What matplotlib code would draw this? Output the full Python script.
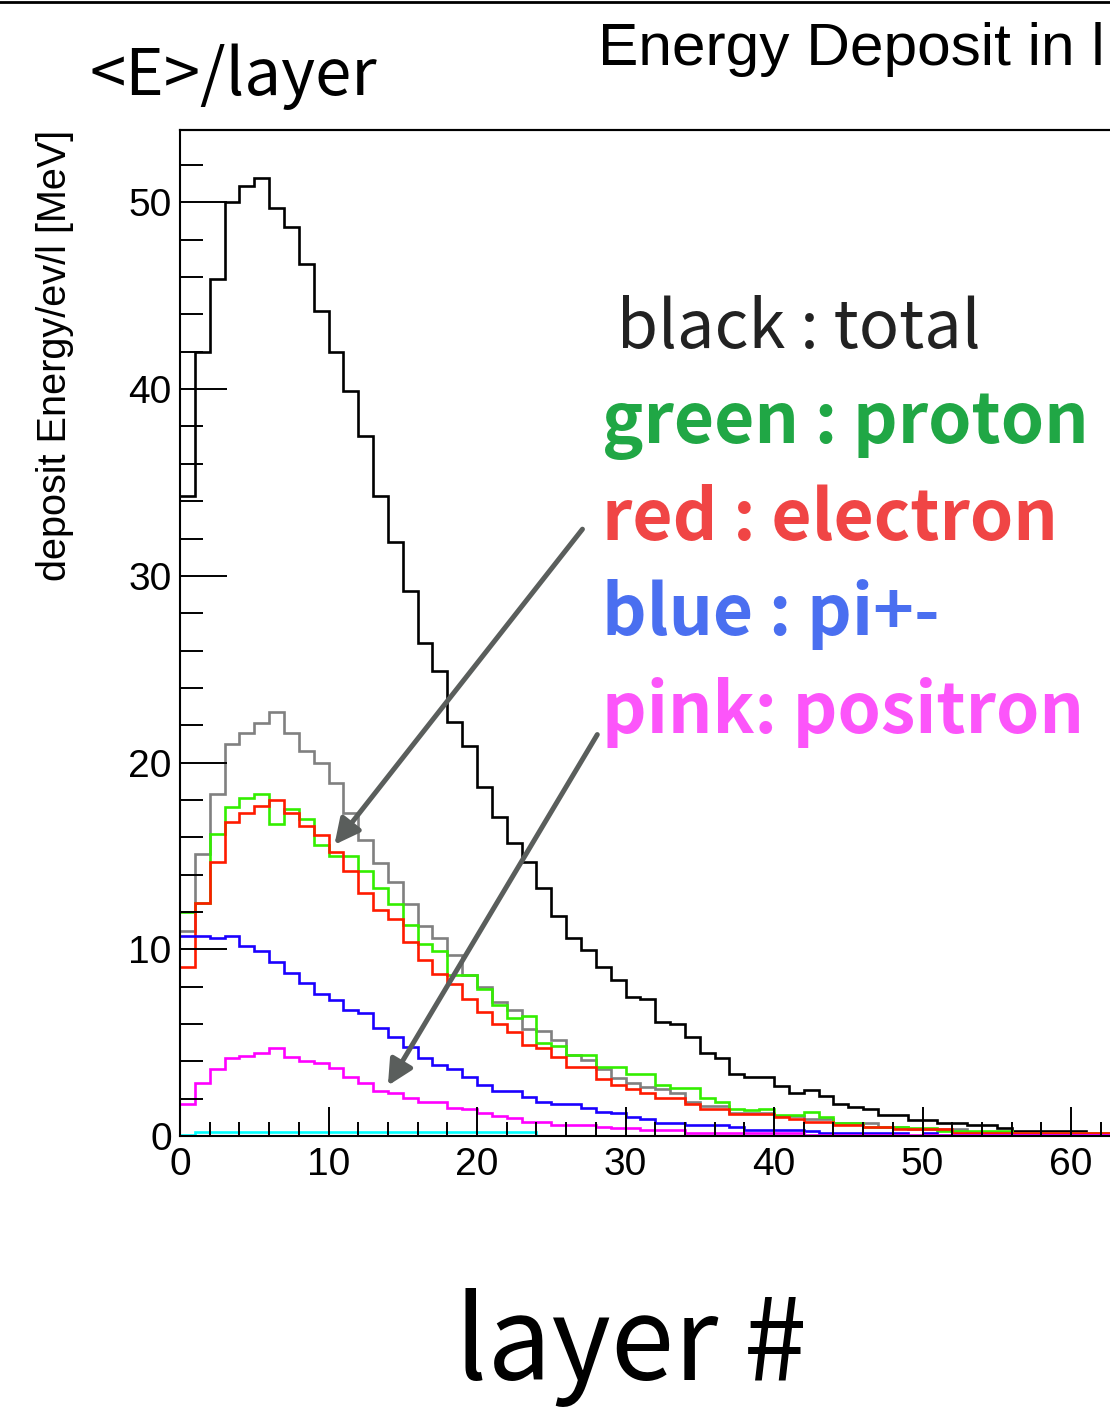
#!/usr/bin/env python3

import numpy as np
import matplotlib
matplotlib.use("Agg")
import matplotlib.pyplot as plt

# mean deposited energy per layer [MeV], one value per layer bin (0..63)
total = [34.3, 42.0, 45.9, 50.0, 50.9, 51.3, 49.7, 48.7, 46.7, 44.2,
         42.0, 39.9, 37.5, 34.3, 31.8, 29.2, 26.4, 24.9, 22.2, 20.9,
         18.7, 17.1, 15.7, 14.7, 13.3, 11.8, 10.6, 9.96, 9.04, 8.36,
         7.46, 7.32, 6.12, 6.0, 5.32, 4.43, 4.16, 3.32, 3.14, 3.14,
         2.68, 2.32, 2.46, 2.14, 1.71, 1.57, 1.43, 1.12, 1.12, 0.86,
         0.86, 0.71, 0.71, 0.59, 0.59, 0.41, 0.28, 0.28, 0.28, 0.28,
         0.28, 0.12, 0.12, 0.12]
gray = [11.0, 15.1, 18.3, 21.0, 21.6, 22.1, 22.7, 21.6, 20.6, 20.0,
        18.9, 17.3, 15.85, 14.6, 13.6, 12.4, 11.25, 10.6, 9.7, 8.6,
        8.0, 7.2, 6.75, 5.72, 5.6, 5.14, 4.34, 4.07, 3.57, 3.09,
        2.86, 2.64, 2.5, 2.32, 1.84, 1.61, 1.61, 1.22, 1.22, 1.22,
        1.07, 1.07, 0.9, 0.9, 0.68, 0.68, 0.68, 0.47, 0.47, 0.36,
        0.36, 0.36, 0.36, 0.22, 0.22, 0.22, 0.15, 0.15, 0.15, 0.15,
        0.15, 0.15, 0.15, 0.15]
proton = [12.0, 12.5, 16.2, 17.6, 18.1, 18.3, 16.7, 17.5, 17.0, 15.6,
          15.0, 15.0, 14.2, 13.3, 12.4, 11.3, 10.3, 9.9, 8.6, 8.6,
          7.86, 7.02, 6.3, 6.43, 5.0, 4.8, 4.34, 4.34, 3.71, 3.71,
          3.3, 3.3, 2.73, 2.55, 2.55, 2.02, 1.84, 1.43, 1.4, 1.43,
          1.12, 1.12, 1.3, 1.0, 0.68, 0.68, 0.47, 0.47, 0.47, 0.41,
          0.41, 0.28, 0.28, 0.28, 0.28, 0.28, 0.17, 0.17, 0.17, 0.17,
          0.17, 0.17, 0.17, 0.17]
electron = [9.07, 12.5, 14.7, 16.8, 17.3, 17.7, 18.0, 17.3, 16.6, 16.1,
            15.2, 14.2, 13.0, 12.1, 11.6, 10.4, 9.43, 8.68, 8.14, 7.32,
            6.66, 6.0, 5.59, 4.87, 4.7, 4.25, 3.71, 3.71, 3.04, 2.73,
            2.5, 2.29, 2.02, 2.02, 1.71, 1.43, 1.43, 1.16, 1.16, 1.16,
            1.0, 0.9, 0.77, 0.77, 0.59, 0.59, 0.47, 0.47, 0.36, 0.36,
            0.36, 0.36, 0.17, 0.17, 0.17, 0.17, 0.17, 0.17, 0.17, 0.17,
            0.17, 0.15, 0.15, 0.15]
pion = [10.7, 10.7, 10.6, 10.7, 10.2, 9.9, 9.3, 8.75, 8.18, 7.6,
        7.28, 6.75, 6.57, 5.77, 5.29, 4.79, 4.2, 3.8, 3.57, 3.14,
        2.73, 2.43, 2.43, 2.11, 1.84, 1.71, 1.71, 1.48, 1.3, 1.22,
        1.04, 0.9, 0.71, 0.71, 0.59, 0.59, 0.59, 0.47, 0.32, 0.32,
        0.32, 0.32, 0.28, 0.14, 0.14, 0.14, 0.14, 0.14, 0.14, 0.02,
        0.14, 0.03, 0.03, 0.03, 0.03, 0.03, 0.03, 0.03, 0.03, 0.03,
        0.03, 0.03, 0.03, 0.03]
positron = [1.71, 2.86, 3.57, 4.16, 4.28, 4.43, 4.7, 4.25, 4.04, 3.89,
            3.62, 3.18, 2.82, 2.43, 2.29, 2.02, 1.84, 1.84, 1.48, 1.43,
            1.22, 1.07, 0.95, 0.77, 0.77, 0.59, 0.59, 0.59, 0.5, 0.45,
            0.45, 0.32, 0.32, 0.32, 0.14, 0.14, 0.14, 0.14, 0.14, 0.14,
            0.14, 0.14, 0.05, 0.05, 0.05, 0.05, 0.05, 0.05, 0.05, 0.05,
            0.05, 0.05, 0.05, 0.05, 0.05, 0.05, 0.05, 0.05, 0.05, 0.05,
            0.05, 0.05, 0.05, 0.05]
other = [0.08, 0.2, 0.2, 0.2, 0.2, 0.2, 0.2, 0.2, 0.2, 0.2,
         0.2, 0.2, 0.2, 0.2, 0.2, 0.2, 0.2, 0.2, 0.2, 0.2,
         0.2, 0.2, 0.2, 0.2, 0.02, 0.02, 0.02, 0.02, 0.02, 0.02,
         0.02, 0.02, 0.02, 0.02, 0.02, 0.02, 0.02, 0.02, 0.02, 0.02,
         0.02, 0.02, 0.02, 0.02, 0.02, 0.02, 0.02, 0.02, 0.02, 0.02,
         0.02, 0.0, 0.0, 0.0, 0.0, 0.0, 0.0, 0.0, 0.0, 0.0,
         0.0, 0.0, 0.0, 0.0]

series = [(total, 'black'), (gray, '#808080'), (proton, '#33ee00'),
          (electron, '#ff1a00'), (pion, '#1a00ff'), (positron, '#ff00ff'),
          (other, '#00ffff')]

legend_lines = [(' black : total', '#222222', 'normal', 48),
                ('green : proton', '#20a745', 'bold', 50),
                ('red : electron', '#f04545', 'bold', 50),
                ('blue : pi+-', '#4a6ff0', 'bold', 50),
                ('pink: positron', '#fc55fa', 'bold', 50)]

W, H = 1110, 1407
JP = ['Noto Sans CJK JP', 'DejaVu Sans']


def fx(x):
    return x / W


def fy(y):
    return 1 - y / H


fig = plt.figure(figsize=(W / 100, H / 100), dpi=100)
ax = fig.add_axes([fx(180), fy(1136), 64 * 14.85 / W, (1136 - 130) / H])

edges = np.arange(len(total) + 1)
for vals, col in series:
    ax.stairs(vals, edges, color=col, linewidth=1.9, baseline=None)

ax.set_xlim(0, 64)
ax.set_ylim(0, 53.88)
ax.set_xticks(np.arange(0, 61, 10))
ax.set_xticks(np.arange(0, 65, 2), minor=True)
ax.set_yticks(np.arange(0, 51, 10))
ax.set_yticks(np.arange(0, 54, 2), minor=True)
ax.tick_params(axis='both', which='both', direction='in', width=1.4,
               labelsize=28, colors='black')
ax.tick_params(axis='y', which='major', length=34, pad=6)
ax.tick_params(axis='y', which='minor', length=16.5)
ax.tick_params(axis='x', which='major', length=21, pad=8)
ax.tick_params(axis='x', which='minor', length=10)
for lab in ax.get_xticklabels() + ax.get_yticklabels():
    lab.set_family('Liberation Sans')
for sp in ax.spines.values():
    sp.set_linewidth(1.5)

# ROOT-style title (cut by the frame edge) and axis title
fig.text(fx(598), fy(65), 'Energy Deposit in l', fontsize=43.5,
         family='Liberation Sans', va='baseline', ha='left')
fig.text(fx(55), fy(130), 'deposit Energy/ev/l [MeV]', fontsize=28.5,
         family='Liberation Sans', rotation=90, ha='center', va='top')
fig.add_artist(plt.Line2D([0, 1], [fy(2), fy(2)], color='black', linewidth=2))
fig.add_artist(plt.Line2D([fx(180), 1], [fy(130), fy(130)], color='black', linewidth=1.5))

# hand-written annotations
fig.text(fx(90), fy(95), '<E>/layer', fontsize=47, family=JP,
         va='baseline', ha='left')
fig.text(fx(455), fy(1380), 'layer #', fontsize=82, family=JP,
         va='baseline', ha='left')

baselines = [348, 443, 540, 635, 733]
for (txt, col, wt, fs), yb in zip(legend_lines, baselines):
    fig.text(fx(602), fy(yb), txt, fontsize=fs, family=JP, color=col,
             fontweight=wt, va='baseline', ha='left')

arrow = dict(arrowstyle='-|>', color='#5a5e5c', linewidth=3.6,
             mutation_scale=38, shrinkA=0, shrinkB=0)
ax.annotate('', xy=(10.4, 15.6), xytext=(27.1, 32.5), arrowprops=arrow,
            annotation_clip=False)
ax.annotate('', xy=(14.0, 2.7), xytext=(28.1, 21.5), arrowprops=arrow,
            annotation_clip=False)

fig.savefig('out.png', dpi=100)
